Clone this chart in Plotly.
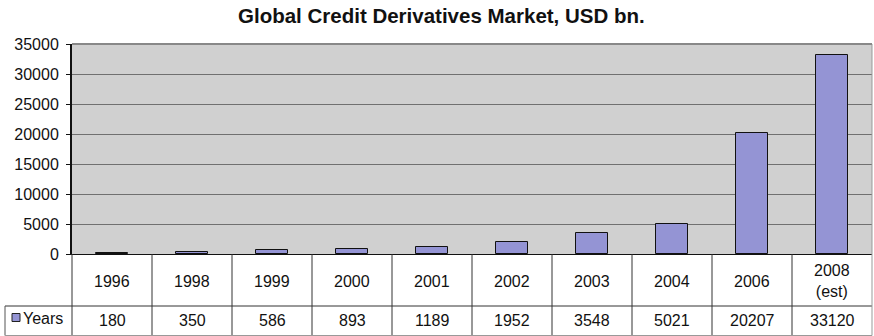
import plotly.graph_objects as go

# Global credit derivatives market size, USD bn.
years = ["1996", "1998", "1999", "2000", "2001", "2002", "2003", "2004", "2006", "2008<br>(est)"]
values = [180, 350, 586, 893, 1189, 1952, 3548, 5021, 20207, 33120]
series_name = "Years"
title_text = "Global Credit Derivatives Market, USD bn."
y_ticks = [0, 5000, 10000, 15000, 20000, 25000, 30000, 35000]
y_tick_labels = ["0", "5000", "10000", "15000", "20000", "25000", "30000", "35000"]

W, H = 874, 336
ML, MR, MT, MB = 72, 2, 44, 82
PW, PH = W - ML - MR, H - MT - MB

BAR_COLOR = "#9494d4"
FONT = "Liberation Sans, Arial, sans-serif"


def px_x(px):
    """Horizontal pixel -> paper coordinate."""
    return (px - ML) / PW


def px_y(px):
    """Vertical pixel (from top) -> paper coordinate."""
    return (H - MB - px) / PH


xs = list(range(len(years)))

fig = go.Figure(
    go.Bar(
        x=xs,
        y=values,
        width=0.41,
        marker=dict(color=BAR_COLOR, line=dict(color="#111111", width=1)),
        name=series_name,
        showlegend=False,
        hoverinfo="skip",
    )
)

shapes = []
annotations = []

row_split = px_y(306)
table_bottom = px_y(335.5)

# column separators of the data table
for i in range(len(years) - 1):
    shapes.append(dict(type="line", xref="x", yref="paper",
                       x0=i + 0.5, x1=i + 0.5, y0=0, y1=table_bottom,
                       line=dict(color="#333333", width=1)))
# left axis continues down through the table
shapes.append(dict(type="line", xref="paper", yref="paper",
                   x0=0, x1=0, y0=0, y1=table_bottom,
                   line=dict(color="#333333", width=1)))
# row divider and outer frame of the values row
shapes.append(dict(type="line", xref="paper", yref="paper",
                   x0=px_x(5), x1=1, y0=row_split, y1=row_split,
                   line=dict(color="#333333", width=1)))
shapes.append(dict(type="line", xref="paper", yref="paper",
                   x0=px_x(5), x1=px_x(5), y0=row_split, y1=table_bottom,
                   line=dict(color="#555555", width=1)))
shapes.append(dict(type="line", xref="paper", yref="paper",
                   x0=px_x(5), x1=1, y0=table_bottom, y1=table_bottom,
                   line=dict(color="#999999", width=1)))
# right frame
shapes.append(dict(type="line", xref="paper", yref="paper",
                   x0=1, x1=1, y0=table_bottom, y1=1,
                   line=dict(color="#999999", width=1)))
# heavier top frame of the plot area
shapes.append(dict(type="line", xref="paper", yref="paper",
                   x0=0, x1=1, y0=1, y1=1,
                   line=dict(color="#888888", width=2)))
# legend key swatch
shapes.append(dict(type="rect", xref="paper", yref="paper",
                   x0=px_x(12), x1=px_x(20), y0=px_y(313.5), y1=px_y(321.5),
                   fillcolor=BAR_COLOR, line=dict(color="#222222", width=1)))

for i, (lab, v) in enumerate(zip(years, values)):
    annotations.append(dict(x=i, y=px_y(281), xref="x", yref="paper",
                            text=lab, showarrow=False, xanchor="center",
                            yanchor="middle", font=dict(size=16, color="#111111", family=FONT)))
    annotations.append(dict(x=i, y=px_y(320), xref="x", yref="paper",
                            text=f"{v}", showarrow=False, xanchor="center",
                            yanchor="middle", font=dict(size=16, color="#111111", family=FONT)))

annotations.append(dict(x=px_x(21), y=px_y(318), xref="paper", yref="paper",
                        text=series_name, showarrow=False, xanchor="left",
                        yanchor="middle", font=dict(size=16, color="#111111", family=FONT)))

fig.update_layout(
    width=W, height=H,
    margin=dict(l=ML, r=MR, t=MT, b=MB, pad=0),
    paper_bgcolor="white",
    plot_bgcolor="#d0d0d0",
    title=dict(text=f"<b>{title_text}</b>", x=0.505, xanchor="center",
               y=1 - 16 / H, yanchor="middle", yref="container",
               font=dict(size=20.5, color="#111111", family=FONT)),
    xaxis=dict(range=[-0.5, len(years) - 0.5], showticklabels=False, ticks="",
               showgrid=False, zeroline=False, showline=True,
               linecolor="#111111", linewidth=1, fixedrange=True),
    yaxis=dict(range=[0, 35000], tickvals=y_ticks, ticktext=y_tick_labels,
               ticks="outside", ticklen=4,
               tickcolor="#111111", showgrid=True, gridcolor="#707070", gridwidth=1,
               zeroline=False, showline=True, linecolor="#111111", linewidth=2,
               tickfont=dict(size=16, color="#111111", family=FONT),
               ticklabelstandoff=4, fixedrange=True),
    shapes=shapes,
    annotations=annotations,
    bargap=0,
)

fig.write_html("out.html")
